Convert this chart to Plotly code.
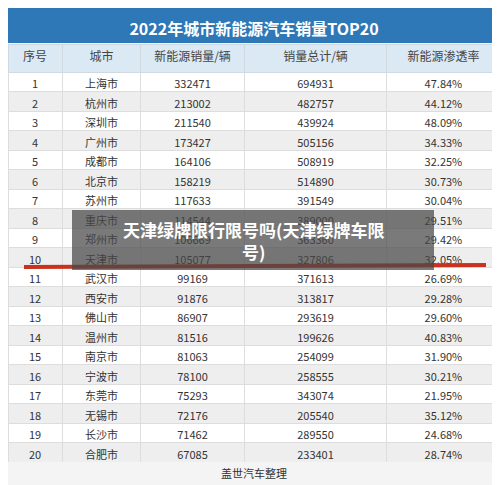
import plotly.graph_objects as go

rank = list(range(1, 21))
cities = ["上海市", "杭州市", "深圳市", "广州市", "成都市", "北京市", "苏州市", "重庆市", "郑州市", "天津市",
          "武汉市", "西安市", "佛山市", "温州市", "南京市", "宁波市", "东莞市", "无锡市", "长沙市", "合肥市"]
nev_sales = [332471, 213002, 211540, 173427, 164106, 158219, 117633, 114544, 106669, 105077,
             99169, 91876, 86907, 81516, 81063, 78100, 75293, 72176, 71462, 67085]
total_sales = [694931, 482757, 439924, 505156, 508919, 514890, 391549, 389000, 363360, 327806,
               371613, 313817, 293619, 199626, 254099, 258555, 343074, 205540, 289550, 233401]
penetration = ["47.84%", "44.12%", "48.09%", "34.33%", "32.25%", "30.73%", "30.04%", "29.51%", "29.42%", "32.05%",
               "26.69%", "29.28%", "29.60%", "40.83%", "31.90%", "30.21%", "21.95%", "35.12%", "24.68%", "28.74%"]
headers = ["序号", "城市", "新能源销量/辆", "销量总计/辆", "新能源渗透率"]
title = "2022年城市新能源汽车销量TOP20"
source = "盖世汽车整理"

W, H = 492, 477
fills = ["#ffffff" if i % 2 == 0 else "#eeeeee" for i in range(20)]
font = "Noto Sans CJK SC"


def py(px):
    return 1 - px / H


fig = go.Figure()
fig.add_trace(go.Table(
    columnwidth=[55, 80, 105, 145, 115],
    header=dict(values=headers, fill_color="#dbe9f5", line_color="#d0d8e0",
                font=dict(family=font, size=12, color="#444"), height=28, align="center"),
    cells=dict(values=[rank, cities, nev_sales, total_sales, penetration],
               fill_color=[fills] * 5, line_color="#dddddd",
               font=dict(family=font, size=11, color="#333"), height=19.5, align="center"),
    domain=dict(x=[0, 1], y=[py(454), py(36)]),
))
fig.add_trace(go.Table(
    header=dict(values=["<b>" + title + "</b>"], fill_color="#2f78b7", line_color="#2f78b7",
                font=dict(family=font, size=16, color="white"), height=36, align="center"),
    cells=dict(values=[[" "]], fill_color="#2f78b7", line_color="#2f78b7", height=20),
    domain=dict(x=[0, 1], y=[py(36), 1]),
))
fig.add_trace(go.Table(
    header=dict(values=[source], fill_color="#f4f4f4", line_color="#f4f4f4",
                font=dict(family=font, size=11, color="#333"), height=23, align="center"),
    cells=dict(values=[[" "]], fill_color="#f4f4f4", line_color="#f4f4f4", height=20),
    domain=dict(x=[0, 1], y=[0, py(454)]),
))

# red highlight line and overlay caption
fig.add_shape(type="line", xref="paper", yref="paper", x0=16 / W, x1=478 / W, y0=py(259), y1=py(257),
              line=dict(color="#c8321e", width=4))
fig.add_shape(type="rect", xref="paper", yref="paper", x0=64 / W, x1=426 / W, y0=py(262), y1=py(202),
              fillcolor="rgba(70,70,70,0.72)", line_width=0)
fig.add_annotation(text="<b>天津绿牌限行限号吗(天津绿牌车限<br>号)</b>", xref="paper", yref="paper",
                   x=245 / W, y=py(232), showarrow=False, align="center",
                   font=dict(family=font, size=17, color="white"))

fig.update_layout(width=W, height=H, margin=dict(l=0, r=0, t=0, b=0), paper_bgcolor="#f4f4f4")
fig.write_html("out.html")
